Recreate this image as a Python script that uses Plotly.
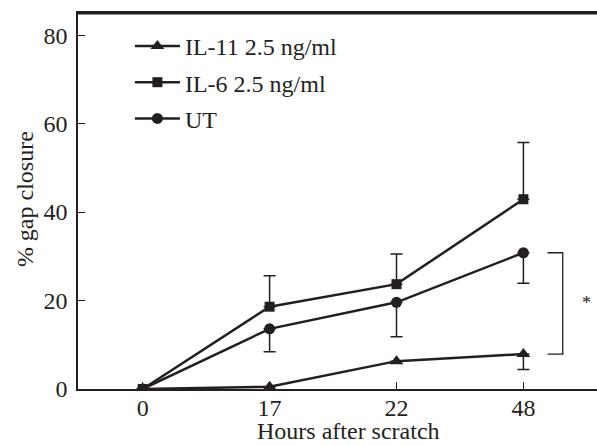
import plotly.graph_objects as go

hours = ["0", "17", "22", "48"]
il11 = [0, 0.5, 6.3, 7.9]
il11_err_minus = [0, 0, 0, 3.5]
il6 = [0, 18.6, 23.7, 42.9]
il6_err_plus = [0, 7.0, 6.8, 12.8]
ut = [0, 13.6, 19.6, 30.8]
ut_err_minus = [0, 5.2, 7.8, 6.9]
y_ticks = [0, 20, 40, 60, 80]

INK = "#231f20"
FONT = "Liberation Serif"
FS = 24
Y_MAX = 85

fig = go.Figure()

fig.add_trace(go.Scatter(
    x=hours, y=il11, name="IL-11 2.5 ng/ml", legendgroup="a",
    mode="lines+markers",
    line=dict(color=INK, width=2.5),
    marker=dict(symbol="triangle-up", size=12, color=INK),
    error_y=dict(type="data", symmetric=False, array=[0]*4, arrayminus=il11_err_minus,
                 color=INK, thickness=1.5, width=6),
))
fig.add_trace(go.Scatter(
    x=hours, y=il6, name="IL-6 2.5 ng/ml", legendgroup="b",
    mode="lines+markers",
    line=dict(color=INK, width=2.5),
    marker=dict(symbol="square", size=10, color=INK),
    error_y=dict(type="data", symmetric=False, array=il6_err_plus, arrayminus=[0]*4,
                 color=INK, thickness=1.5, width=6),
))
fig.add_trace(go.Scatter(
    x=hours, y=ut, name="UT", legendgroup="c",
    mode="lines+markers",
    line=dict(color=INK, width=2.5),
    marker=dict(symbol="circle", size=11, color=INK),
    error_y=dict(type="data", symmetric=False, array=[0]*4, arrayminus=ut_err_minus,
                 color=INK, thickness=1.5, width=6),
))

# significance bracket between UT and IL-11 at 48 h
bx0, bx1 = 3.19, 3.31
fig.add_shape(type="path", xref="x", yref="y",
              path=f"M {bx0} {ut[-1]} L {bx1} {ut[-1]} L {bx1} {il11[-1]} L {bx0} {il11[-1]}",
              line=dict(color=INK, width=1.3))
# top frame line
fig.add_shape(type="line", xref="paper", yref="y", x0=0, x1=1, y0=Y_MAX - 0.1, y1=Y_MAX - 0.1,
              line=dict(color=INK, width=2), layer="above")

PL, PW = 78, 519

fig.update_layout(
    width=597, height=445,
    margin=dict(l=PL, r=0, t=13, b=56, autoexpand=False),
    plot_bgcolor="white", paper_bgcolor="white",
    font=dict(family=FONT, size=FS, color=INK),
    showlegend=True,
    legend=dict(x=0.1, y=0.971, xanchor="left", yanchor="top",
                bgcolor="rgba(0,0,0,0)", borderwidth=0,
                tracegroupgap=2, itemwidth=45,
                font=dict(family=FONT, size=FS, color=INK)),
    xaxis=dict(type="category", range=[-0.51, 3.58], automargin=False,
               showline=True, linecolor=INK, linewidth=1.5, mirror=True,
               ticks="inside", ticklen=7, tickwidth=1.3, tickcolor=INK,
               ticklabelstandoff=-4,
               showgrid=False, zeroline=False,
               tickfont=dict(family=FONT, size=FS, color=INK)),
    yaxis=dict(range=[0, Y_MAX], tickvals=y_ticks, automargin=False,
               showline=True, linecolor=INK, linewidth=1.5,
               ticks="inside", ticklen=7, tickwidth=1.3, tickcolor=INK,
               ticklabelstandoff=4,
               showgrid=False, zeroline=False,
               tickfont=dict(family=FONT, size=FS, color=INK)),
    annotations=[
        dict(text="*", xref="paper", yref="y",
             x=(586 - PL) / PW, y=(ut[-1] + il11[-1]) / 2,
             xanchor="center", yanchor="middle", showarrow=False,
             font=dict(family=FONT, size=18, color=INK)),
        dict(text="Hours after scratch", xref="paper", yref="paper",
             x=(348 - PL) / PW, y=-0.112, xanchor="center", yanchor="middle",
             showarrow=False, font=dict(family=FONT, size=FS, color=INK)),
        dict(text="% gap closure", xref="paper", yref="paper",
             x=(25 - PL) / PW, y=0.505, textangle=-90, xanchor="center", yanchor="middle",
             showarrow=False, font=dict(family=FONT, size=FS, color=INK)),
    ],
)

fig.write_html("out.html", config={"displayModeBar": False},
               post_script="document.body.style.margin='0';document.body.style.padding='0';")
